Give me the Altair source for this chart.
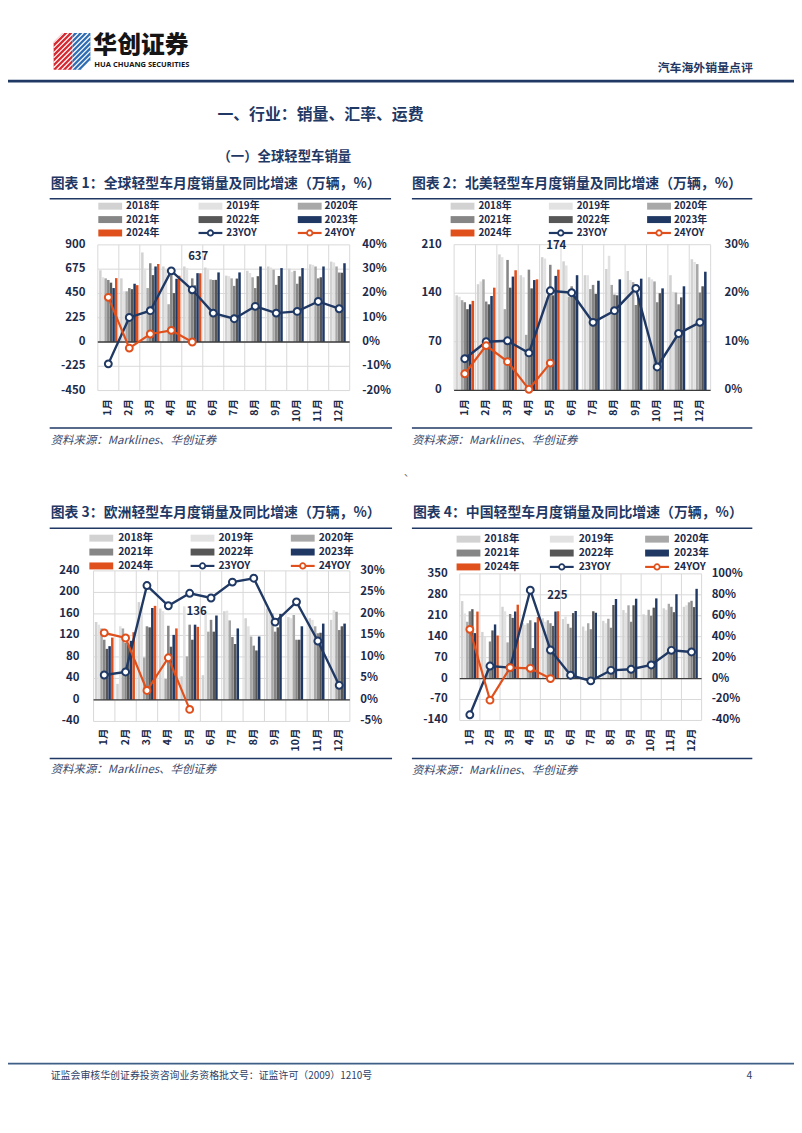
import altair as alt
import pandas as pd

# ---------------- data ----------------
months = [f"{i}月" for i in range(1, 13)]
years = ["2018年", "2019年", "2020年", "2021年", "2022年", "2023年", "2024年"]

# 全球 (万辆), rows = 2018..2024
global_sales = [
    [665, 590, 830, 700, 700, 690, 615, 660, 700, 680, 720, 745],
    [600, 470, 680, 670, 685, 680, 610, 640, 690, 650, 715, 737],
    [590, 470, 500, 350, 470, 580, 590, 600, 670, 660, 700, 700],
    [575, 500, 730, 620, 590, 575, 520, 500, 530, 540, 590, 644],
    [550, 490, 620, 453, 525, 576, 588, 610, 612, 608, 600, 642],
    [500, 540, 700, 586, 638, 645, 645, 700, 685, 685, 700, 730],
    [592, 527, 723, 614, 637],
]
global_yoy23 = [-9.0, 10.1, 12.9, 29.3, 21.5, 11.9, 9.6, 14.7, 11.9, 12.6, 16.7, 13.7]
global_yoy24 = [18.4, -2.5, 3.3, 4.8, 0.0]

# 北美
na_sales = [
    [137, 153, 196, 166, 192, 186, 166, 175, 172, 163, 166, 189],
    [135, 157, 192, 163, 190, 180, 166, 194, 159, 160, 142, 185],
    [130, 160, 117, 80, 134, 135, 146, 152, 156, 157, 141, 182],
    [127, 128, 188, 174, 181, 150, 152, 138, 123, 127, 124, 141],
    [117, 124, 148, 147, 137, 138, 139, 137, 133, 140, 134, 150],
    [124, 136, 164, 159, 165, 166, 158, 160, 161, 147, 150, 171],
    [129, 148, 173, 160, 174],
]
na_yoy23 = [6.5, 10.0, 10.2, 7.7, 20.5, 20.1, 14.0, 16.4, 21.0, 4.8, 11.7, 14.0]
na_yoy24 = [3.4, 9.2, 5.9, 0.2, 5.6]

# 欧洲
eu_sales = [
    [145, 30, 182, 170, 44, 46, 165, 152, 170, 154, 152, 149],
    [140, 137, 173, 165, 174, 164, 166, 137, 168, 152, 149, 167],
    [133, 133, 79, 39, 81, 127, 148, 118, 161, 158, 137, 164],
    [112, 106, 137, 138, 140, 149, 117, 101, 127, 112, 124, 130],
    [95, 103, 135, 99, 112, 127, 104, 92, 135, 112, 125, 137],
    [100, 110, 171, 121, 140, 157, 133, 118, 160, 137, 142, 142],
    [116, 126, 175, 133, 136],
]
eu_yoy23 = [5.8, 6.5, 26.6, 21.9, 24.8, 23.7, 27.4, 28.3, 18.1, 22.8, 13.7, 3.4]
eu_yoy24 = [15.6, 14.4, 2.2, 9.8, -2.2]

# 中国
cn_sales = [
    [259, 156, 240, 186, 202, 199, 174, 193, 229, 215, 235, 240],
    [218, 140, 225, 180, 190, 207, 160, 185, 220, 210, 230, 245],
    [190, 30, 121, 185, 195, 183, 185, 200, 245, 230, 250, 255],
    [225, 124, 216, 195, 185, 170, 165, 170, 190, 210, 240, 260],
    [232, 161, 203, 102, 176, 219, 225, 246, 245, 237, 222, 239],
    [152, 181, 224, 188, 224, 226, 220, 266, 267, 268, 282, 300],
    [224, 144, 247, 206, 225],
]
cn_yoy23 = [-34.6, 12.0, 10.5, 84.4, 27.3, 3.2, -2.2, 7.9, 8.9, 13.0, 27.0, 25.4]
cn_yoy24 = [47.0, -20.6, 10.5, 9.8, 0.0]

titles = [
    "图表 1：全球轻型车月度销量及同比增速（万辆，%）",
    "图表 2：北美轻型车月度销量及同比增速（万辆，%）",
    "图表 3：欧洲轻型车月度销量及同比增速（万辆，%）",
    "图表 4：中国轻型车月度销量及同比增速（万辆，%）",
]
legend_names = years + ["23YOY", "24YOY"]

# ---------------- styling / layout ----------------
O = 8
FONT = "Noto Sans CJK SC"
NAVY = "#1F3864"
ORANGE = "#E0501C"
TXT = "#1C2A4A"
GRID = "#D9D9D9"
YEAR_COLORS = ["#D2D2D2", "#E2E2E2", "#A8A8A8", "#868686", "#575757", NAVY, ORANGE]
ONE = pd.DataFrame({"d": [0]})

layouts = [
    dict(ticks=[-450, -225, 0, 225, 450, 675, 900], pticks=[-20, -10, 0, 10, 20, 30, 40],
         px=(98.5, 352.3), py=(242.5, 389.3), lab_l=86, lab_r=365, mon_y=398,
         tx=(51, 181), trule=(50, 394, 196), leg_y=(203.5, 217, 230.5), leg_fs=10,
         leg_sw=(99, 200, 300), leg_tx=(127, 228, 327), val_d=(6, -16),
         src=(50, 395, 427, 51, 440)),
    dict(ticks=[0, 70, 140, 210], pticks=[0, 10, 20, 30],
         px=(457.5, 716), py=(242.3, 389), lab_l=445, lab_r=730, mon_y=398,
         tx=(415, 181), trule=(415, 758, 196), leg_y=(203.5, 217, 230.5), leg_fs=10,
         leg_sw=(454, 553, 652), leg_tx=(482, 581, 679), val_d=(6, -24),
         src=(415, 758, 427, 415, 440)),
    dict(ticks=[-40, 0, 40, 80, 120, 160, 200, 240], pticks=[-5, 0, 5, 10, 15, 20, 25, 30],
         px=(94.2, 352.5), py=(571, 722.7), lab_l=80, lab_r=363, mon_y=730,
         tx=(51, 513), trule=(50, 395, 528), leg_y=(538, 552, 566), leg_fs=10.5,
         leg_sw=(90, 192, 293), leg_tx=(119, 220, 321), val_d=(7, -15),
         src=(50, 395, 760, 51, 772)),
    dict(ticks=[-140, -70, 0, 70, 140, 210, 280, 350], pticks=[-40, -20, 0, 20, 40, 60, 80, 100],
         px=(463.2, 706.9), py=(574, 721.7), lab_l=451, lab_r=717, mon_y=730,
         tx=(416, 513), trule=(415, 758, 528), leg_y=(539, 553, 567), leg_fs=10.5,
         leg_sw=(460, 554, 650), leg_tx=(488, 583, 679), val_d=(7, -15),
         src=(415, 758, 760, 415, 773)),
]
series = [
    (global_sales, global_yoy23, global_yoy24),
    (na_sales, na_yoy23, na_yoy24),
    (eu_sales, eu_yoy23, eu_yoy24),
    (cn_sales, cn_yoy23, cn_yoy24),
]


def text(t, x, y, size, color=NAVY, weight="bold", align="left", style="normal", font=FONT):
    return alt.Chart(ONE).mark_text(
        text=t, align=align, baseline="middle", fontSize=size, fontWeight=weight,
        color=color, font=font, fontStyle=style
    ).encode(x=alt.value(x - O), y=alt.value(y - O))


def hline(x0, x1, y, color=NAVY, w=1.2):
    return alt.Chart(ONE).mark_rule(color=color, strokeWidth=w).encode(
        x=alt.value(x0 - O), x2=alt.value(x1 - O), y=alt.value(y - O))


def panel(L, sales, yoy23, yoy24):
    x0, x1 = L["px"][0] - O, L["px"][1] - O
    yt, yb = L["py"][0] - O, L["py"][1] - O
    xs = alt.Scale(domain=months, range=[x0, x1], paddingInner=0, paddingOuter=0)
    X = alt.X("m:N", scale=xs, axis=None)
    XB = alt.X("m:N", scale=xs, axis=None, bandPosition=0)
    ys = alt.Scale(domain=[L["ticks"][0], L["ticks"][-1]], range=[yb, yt], nice=False, zero=False)
    Y = alt.Y("v:Q", scale=ys, axis=None)
    ps = alt.Scale(domain=[L["pticks"][0], L["pticks"][-1]], range=[yb, yt], nice=False, zero=False)
    P = alt.Y("p:Q", scale=ps, axis=None)

    bars_df = pd.DataFrame([
        {"m": months[mi], "yr": yr, "v": v}
        for yi, yr in enumerate(years) for mi, v in enumerate(sales[yi])
    ])

    hgrid = alt.Chart(pd.DataFrame({"v": L["ticks"]})).mark_rule(color=GRID, strokeWidth=1).encode(
        y=Y, x=alt.value(x0), x2=alt.value(x1))
    vgrid = alt.Chart(pd.DataFrame({"m": months})).mark_rule(color=GRID, strokeWidth=1).encode(
        x=XB, y=alt.value(yt), y2=alt.value(yb))
    redge = alt.Chart(ONE).mark_rule(color=GRID, strokeWidth=1).encode(
        x=alt.value(x1), y=alt.value(yt), y2=alt.value(yb))
    bars = alt.Chart(bars_df).mark_bar().encode(
        x=X,
        xOffset=alt.XOffset("yr:N", scale=alt.Scale(domain=years, paddingInner=0.06, paddingOuter=0.5)),
        y=Y, y2=alt.datum(0),
        color=alt.Color("yr:N", scale=alt.Scale(domain=years, range=YEAR_COLORS), legend=None),
    )
    zero = alt.Chart(pd.DataFrame({"v": [0]})).mark_rule(color="#3C3C3C", strokeWidth=1.3).encode(
        y=Y, x=alt.value(x0), x2=alt.value(x1))
    left_lab = alt.Chart(pd.DataFrame({"v": L["ticks"], "l": [str(t) for t in L["ticks"]]})).mark_text(
        align="right", baseline="middle", fontSize=11.5, fontWeight="bold", color=TXT, font=FONT
    ).encode(y=Y, x=alt.value(L["lab_l"] - O), text="l:N")
    mon_lab = alt.Chart(pd.DataFrame({"m": months})).mark_text(
        angle=270, align="right", baseline="middle", fontSize=10.5, fontWeight="bold", color=TXT, font=FONT
    ).encode(x=X, y=alt.value(L["mon_y"] - O), text="m:N")
    last = sales[6][-1]
    val_lab = alt.Chart(pd.DataFrame({"m": [months[len(sales[6]) - 1]], "v": [last], "l": [str(last)]})).mark_text(
        align="center", baseline="middle", fontSize=11.5, fontWeight="bold", color=TXT, font=FONT,
        dx=L["val_d"][0], dy=L["val_d"][1]
    ).encode(x=X, y=Y, text="l:N")

    d23 = pd.DataFrame({"m": months[:len(yoy23)], "p": yoy23})
    d24 = pd.DataFrame({"m": months[:len(yoy24)], "p": yoy24})
    l23 = alt.Chart(d23).mark_line(color=NAVY, strokeWidth=2.4).encode(x=X, y=P)
    p23 = alt.Chart(d23).mark_point(shape="circle", filled=True, fill="white", stroke=NAVY,
                                     strokeWidth=2, size=48, opacity=1).encode(x=X, y=P)
    l24 = alt.Chart(d24).mark_line(color=ORANGE, strokeWidth=2.2).encode(x=X, y=P)
    p24 = alt.Chart(d24).mark_point(shape="circle", filled=True, fill="white", stroke=ORANGE,
                                     strokeWidth=2, size=48, opacity=1).encode(x=X, y=P)
    right_lab = alt.Chart(pd.DataFrame({"p": L["pticks"], "l": [f"{t}%" for t in L["pticks"]]})).mark_text(
        align="left", baseline="middle", fontSize=11.5, fontWeight="bold", color=TXT, font=FONT
    ).encode(y=P, x=alt.value(L["lab_r"] - O), text="l:N")

    sales_layer = alt.layer(hgrid, vgrid, redge, bars, zero, left_lab, mon_lab, val_lab)
    yoy_layer = alt.layer(l23, l24, p23, p24, right_lab)
    return alt.layer(sales_layer, yoy_layer).resolve_scale(y="independent")


def decorations(L, title):
    out = [text(title, L["tx"][0], L["tx"][1], 14)]
    a, b, y = L["trule"]
    out.append(hline(a, b, y, NAVY, 1.4))
    for i, name in enumerate(legend_names):
        r, c = divmod(i, 3)
        yy = L["leg_y"][r]
        sw = L["leg_sw"][c]
        if i < len(years):
            out.append(alt.Chart(ONE).mark_rect(color=YEAR_COLORS[i]).encode(
                x=alt.value(sw - O), x2=alt.value(sw + 24 - O),
                y=alt.value(yy - 3.5 - O), y2=alt.value(yy + 3.5 - O)))
        else:
            col = NAVY if name == "23YOY" else ORANGE
            out.append(hline(sw, sw + 24, yy, col, 2.2))
            out.append(alt.Chart(ONE).mark_point(shape="circle", filled=True, fill="white", stroke=col,
                                                 strokeWidth=1.8, size=30, opacity=1).encode(
                x=alt.value(sw + 12 - O), y=alt.value(yy - O)))
        out.append(text(name, L["leg_tx"][c], yy, L["leg_fs"], color=TXT))
    sa, sb, sy, stx, sty = L["src"]
    out.append(hline(sa, sb, sy, NAVY, 1.4))
    out.append(text("资料来源：Marklines、华创证券", stx, sty, 11.5, color="#3B4A6B", weight="normal", style="italic"))
    return out


# ---------------- header ----------------
header = []
LOGO_S = 37
def lp(u, v):
    return f"{(u - 18.5) / 18.5:.3f},{(v - 18.5) / 18.5:.3f}"
red_path = "M" + " L".join(lp(u, v) for u, v in [(0, 9), (9, 0), (19, 0), (19, 37), (0, 37)]) + " Z"
blue_path = "M" + " L".join(lp(u, v) for u, v in [(19, 0), (37, 0), (37, 28), (28, 37), (19, 37)]) + " Z"
for path, col in [(red_path, "#D7282F"), (blue_path, "#2E6DB4")]:
    header.append(alt.Chart(ONE).mark_point(shape=path, filled=True, color=col, size=LOGO_S ** 2, opacity=1).encode(
        x=alt.value(72.5 - O), y=alt.value(47.5 - O)))
for c in range(5, 74, 5):
    if c <= 37:
        p0, p1 = (0, c), (c, 0)
    else:
        p0, p1 = (c - 37, 37), (37, c - 37)
    header.append(alt.Chart(ONE).mark_rule(color="white", strokeWidth=1.2).encode(
        x=alt.value(54 + p0[0] - O), y=alt.value(29 + p0[1] - O),
        x2=alt.value(54 + p1[0] - O), y2=alt.value(29 + p1[1] - O)))
header.append(text("华创证券", 94, 42.5, 24, color="#151515", weight=900))
header.append(text("HUA CHUANG SECURITIES", 95, 61.5, 7.6, color="#151515", font="Open Sans"))
header.append(text("汽车海外销量点评", 758.5, 64.5, 12, align="right"))
header.append(hline(8, 800, 77.5, NAVY, 2.6))
header.append(text("一、行业：销量、汇率、运费", 219, 111.5, 16))
header.append(text("（一）全球轻型车销量", 219, 153.5, 13.5))
header.append(text("、", 407, 472, 10, color="#555555", weight="normal"))
# footer
header.append(hline(8, 800, 1067.5, "#3F5F86", 1.6))
header.append(text("证监会审核华创证券投资咨询业务资格批文号：证监许可（2009）1210号", 51, 1080, 10,
                   color="#2F3F66", weight="normal"))
header.append(text("4", 758, 1080, 10.5, color="#2F3F66", weight="normal", align="right"))

layers = list(header)
for L, (s, y23, y24), t in zip(layouts, series, titles):
    layers.append(panel(L, s, y23, y24))
    layers.extend(decorations(L, t))

chart = alt.layer(*layers).resolve_scale(
    x="independent", y="independent", xOffset="independent"
).properties(
    width=792, height=1100, autosize=alt.AutoSizeParams(type="none"), padding=0
).configure_view(stroke=None)

chart.save("out.html", embed_options={"renderer": "svg", "actions": False})
